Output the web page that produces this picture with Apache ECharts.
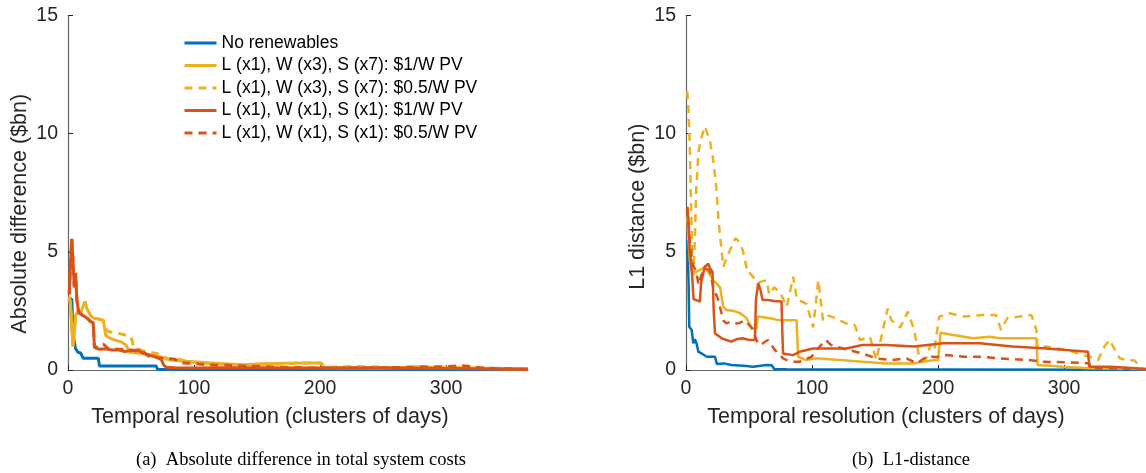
<!DOCTYPE html>
<html>
<head>
<meta charset="utf-8">
<script src="https://cdn.jsdelivr.net/npm/echarts@6/dist/echarts.min.js"></script>
<style>html,body{margin:0;padding:0;background:#fff}#c{width:1146px;height:473px}</style>
</head>
<body>
<div id="c"></div>
<script>
// ---------- Data ----------
const seriesNames = [
  'No renewables',
  'L (x1), W (x3), S (x7): $1/W PV',
  'L (x1), W (x3), S (x7): $0.5/W PV',
  'L (x1), W (x1), S (x1): $1/W PV',
  'L (x1), W (x1), S (x1): $0.5/W PV'
];
const xTickInterval = 100;
const yTickInterval = 5;

// (a) Absolute difference in total system costs
const aBlueX = [1,3,4,5,6,8,10,12,24,25,70,71,100,200,300,365];
const aBlueY = [3.0,3.0,1.5,1.45,0.9,0.75,0.72,0.5,0.5,0.17,0.17,0.03,0.02,0.02,0.01,0.01];

const aYellowX = [1,2,3,4,5,6,8,10,12,13.5,15,18,20,25,28,30,33,38,42,46,49,55,60,65,73,81,90,105,120,139,150,165,180,195,201,203,220,250,281,290,320,365];
const aYellowY = [3.1,2.8,1.8,1.0,1.6,2.3,2.5,2.4,2.7,2.9,2.6,2.3,2.2,2.15,2.1,1.45,1.35,1.25,1.2,1.06,0.75,0.72,0.7,0.65,0.56,0.42,0.38,0.33,0.28,0.22,0.25,0.28,0.3,0.3,0.3,0.1,0.08,0.07,0.15,0.08,0.06,0.04];

const aYellowDashX = [1,2,3,4,5,6,8,10,12,13.5,15,18,20,25,28,31,35,40,44,50,52,55,60,65,70,75,80,85,95,105,120,140,160,180,200,203,230,260,290,330,365];
const aYellowDashY = [3.1,2.8,1.8,1.0,1.6,2.3,2.5,2.4,2.7,2.9,2.6,2.3,2.2,2.15,2.1,1.65,1.6,1.55,1.5,1.4,1.0,0.9,0.8,0.75,0.7,0.6,0.45,0.5,0.35,0.3,0.25,0.22,0.25,0.28,0.3,0.12,0.15,0.1,0.12,0.08,0.05];

const aOrangeX = [1,2,3,4,5,6,7,8,9,12,15,18,20,21,25,30,35,40,45,50,55,60,65,70,74,76,78,85,100,120,150,200,250,300,365];
const aOrangeY = [3.2,4.5,5.55,4.6,3.5,4.1,3.0,2.6,2.4,2.3,2.2,2.05,2.0,0.95,0.88,0.9,0.85,0.85,0.78,0.82,0.85,0.7,0.62,0.55,0.45,0.2,0.12,0.1,0.08,0.1,0.1,0.08,0.08,0.06,0.03];

const aOrangeDashX = [1,2,3,4,5,6,7,8,9,12,15,18,20,21,25,28,32,40,50,55,60,65,75,85,90,100,112,126,150,194,250,300,313,330,365];
const aOrangeDashY = [3.2,4.5,5.55,4.6,3.5,4.1,3.0,2.6,2.4,2.3,2.2,2.05,2.0,0.95,1.0,1.1,0.9,0.88,0.85,0.8,0.75,0.55,0.5,0.45,0.3,0.28,0.21,0.2,0.15,0.08,0.1,0.14,0.18,0.08,0.03];

// (b) L1-distance
const bBlueX = [1,2,2.6,4.5,5.8,7,8.5,9.8,12.4,13.7,16.5,19,23,24.5,30,36,48,53,64,68,70,80,120,200,365];
const bBlueY = [5.5,3.8,1.83,1.69,1.13,1.3,1.1,0.77,0.7,0.7,0.56,0.56,0.56,0.25,0.28,0.21,0.17,0.14,0.21,0.2,0.04,0.03,0.02,0.02,0.01];

const bYellowX = [1,2,3,4,6,10,15,21.6,27,29.6,32,38,43,48,52,56,57,60,66.5,74.5,87.7,89,95.6,101,106,122,140,159,181,197,200,202,212,228,241,249,278,279,299,320,365];
const bYellowY = [6.5,5.5,4.65,4.3,4.1,4.2,4.37,3.8,3.5,2.68,2.54,2.5,2.4,2.2,1.76,1.76,2.26,2.24,2.19,2.1,2.1,0.56,0.42,0.49,0.49,0.42,0.35,0.28,0.28,0.42,0.42,1.58,1.48,1.34,1.41,1.34,1.34,0.21,0.14,0.07,0.04];

const bYellowDashX = [1,2,3,4,5,6,7,8,9.8,12,15,17,19,21.6,24,26,29.6,35,39,41,45,49,50.7,57,64,66,70,75,80,85,88,95.6,100.9,105,108.7,113,119,127,134,138,146,151,155,160,163,170,176,181,185,190,194,197,201,209,221,235,246,250,255,265,274,278,279,286,302,320,327,332,336,344,350,356,361,365];
const bYellowDashY = [11.8,11.0,9.5,7.0,5.0,4.0,5.5,7.5,9.2,9.8,10.3,10.0,9.7,8.9,7.75,6.2,4.37,5.08,5.57,5.5,5.08,4.09,4.1,3.7,3.8,3.2,3.5,3.25,2.68,3.95,3.0,2.8,1.8,3.8,2.1,2.3,2.19,1.97,1.9,1.27,1.4,0.42,1.4,2.6,2.1,1.8,2.47,1.7,0.56,0.4,1.06,0.85,2.26,2.4,2.26,2.33,2.33,1.7,2.2,2.26,2.33,1.7,0.95,0.99,0.85,0.56,0.42,0.99,1.27,0.5,0.42,0.4,0.08,0.05];

const bOrangeX = [1,2,3,4,5,6,7,11,12,13.7,15,17.7,19,21,22,23,28,32,36,40,45,50,54.7,55.5,57.3,59,60.8,65,70,75.8,76.5,77,85,90,100.9,106,127,140,146,159,181,204,225,233,259,286,319,320,337,357,365];
const bOrangeY = [6.9,6.35,5.0,4.6,3.9,3.0,2.96,2.9,3.7,4.1,4.37,4.5,4.3,4.16,2.5,1.55,1.35,1.27,1.2,1.3,1.34,1.27,1.27,3.0,3.67,3.4,2.96,2.96,2.92,2.9,1.5,0.7,0.63,0.77,0.91,0.91,0.91,1.06,1.06,1.06,0.99,1.13,1.13,1.13,0.99,0.91,0.77,0.14,0.14,0.07,0.03];

const bOrangeDashX = [1,2,3,5,6,8,10,12,15,19,21.6,25.6,29.6,32,35,40,43,46.8,52,57,58.6,61,65,66.5,70.5,77,80,84,90,99.6,106,111,115,125,140,151,163,175,183,191,200,207,221,233,249,272,283,312,320,321,340,365];
const bOrangeDashY = [6.9,6.2,5.5,4.6,4.37,4.2,3.6,4.0,4.3,4.2,3.5,2.96,2.1,1.97,2.04,1.97,2.0,2.1,1.8,1.13,1.06,1.13,1.27,1.27,0.85,0.49,0.42,0.35,0.35,0.56,0.99,1.27,1.06,0.9,0.7,0.49,0.42,0.49,0.28,0.56,0.55,0.63,0.56,0.56,0.49,0.42,0.35,0.31,0.28,0.07,0.06,0.03];

// ---------- Chart ----------
const colors = ['#0072BD', '#EDB120', '#EDB120', '#D95319', '#D95319'];
const dashed = [false, false, true, false, true];
const sansFont = 'Liberation Sans';
const textColor = '#262626';

function pairs(xs, ys) { return xs.map((x, i) => [x, ys[i]]); }

const panelA = [[aBlueX,aBlueY],[aYellowX,aYellowY],[aYellowDashX,aYellowDashY],[aOrangeX,aOrangeY],[aOrangeDashX,aOrangeDashY]];
const panelB = [[bBlueX,bBlueY],[bYellowX,bYellowY],[bYellowDashX,bYellowDashY],[bOrangeX,bOrangeY],[bOrangeDashX,bOrangeDashY]];

function makeSeries(panel, idx, width) {
  return panel.map((d, i) => ({
    name: seriesNames[i],
    type: 'line',
    xAxisIndex: idx, yAxisIndex: idx,
    data: pairs(d[0], d[1]),
    symbol: 'none',
    smooth: false,
    clip: true,
    lineStyle: { color: colors[i], width: width, type: dashed[i] ? [8, 6] : 'solid' },
    itemStyle: { color: colors[i] },
    z: 2 + i
  }));
}

function xAxisCfg(idx, padRight) {
  return {
    gridIndex: idx, type: 'value', min: 0, max: 365, interval: xTickInterval,
    name: 'Temporal resolution (clusters of days)', nameLocation: 'middle', nameGap: 36,
    nameTextStyle: { fontFamily: sansFont, fontSize: 21.5, color: textColor, padding: [0, padRight, 0, 0] },
    axisLine: { show: true, lineStyle: { color: '#666', width: 1.2 } },
    axisTick: { show: true, inside: true, length: 5, lineStyle: { color: '#262626', width: 1 } },
    axisLabel: { fontFamily: sansFont, fontSize: 19.5, color: textColor, margin: 9, showMaxLabel: false },
    splitLine: { show: false }
  };
}
function yAxisCfg(idx, name, padRight) {
  return {
    gridIndex: idx, type: 'value', min: 0, max: 15, interval: yTickInterval,
    name: name, nameLocation: 'middle', nameRotate: 90, nameGap: 37,
    nameTextStyle: { fontFamily: sansFont, fontSize: 21.5, color: textColor, padding: [0, padRight, 0, 0] },
    axisLine: { show: true, lineStyle: { color: '#666', width: 1.2 } },
    axisTick: { show: true, inside: true, length: 5, lineStyle: { color: '#262626', width: 1 } },
    axisLabel: { fontFamily: sansFont, fontSize: 19.5, color: textColor, margin: 10 },
    splitLine: { show: false }
  };
}

const chart = echarts.init(document.getElementById('c'), null, { renderer: 'canvas' });
chart.setOption({
  animation: false,
  backgroundColor: '#fff',
  title: [
    { text: '(a)  Absolute difference in total system costs', left: 296, top: 446, textAlign: 'center',
      textStyle: { fontFamily: 'Liberation Serif', fontSize: 18.5, fontWeight: 'normal', color: '#000' } },
    { text: '(b)  L1-distance', left: 906, top: 446, textAlign: 'center',
      textStyle: { fontFamily: 'Liberation Serif', fontSize: 18.5, fontWeight: 'normal', color: '#000' } }
  ],
  legend: {
    data: seriesNames, orient: 'vertical', left: 183, top: 34, padding: 0,
    itemWidth: 32, itemHeight: 18, itemGap: 4.5,
    itemStyle: { opacity: 0 },
    lineStyle: { width: 3 },
    textStyle: { fontFamily: sansFont, fontSize: 17.5, color: '#000' },
    selectedMode: false
  },
  grid: [
    { left: 68, top: 15.5, width: 460, height: 354.5, containLabel: false },
    { left: 686, top: 15.5, width: 460, height: 354.5, containLabel: false }
  ],
  xAxis: [xAxisCfg(0, 56), xAxisCfg(1, 60)],
  yAxis: [yAxisCfg(0, 'Absolute difference ($bn)', 42), yAxisCfg(1, 'L1 distance ($bn)', 28)],
  series: makeSeries(panelA, 0, 3).concat(makeSeries(panelB, 1, 2.5))
});
</script>
</body>
</html>
